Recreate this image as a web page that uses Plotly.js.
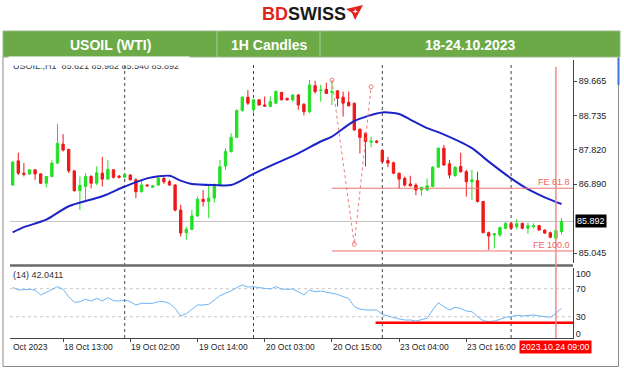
<!DOCTYPE html>
<html><head><meta charset="utf-8">
<script src="https://cdn.plot.ly/plotly-3.0.1.min.js"></script>
<style>html,body{margin:0;padding:0;background:#fff;overflow:hidden}#chart{width:624px;height:371px}</style>
</head><body><div id="chart"></div>
<script>
// ---------- DATA ----------
const titleText = "USOIL (WTI)";
const timeframeText = "1H Candles";
const dateRangeText = "18-24.10.2023";
const symbolLine = "USOIL.,H1  85.621 85.982 85.540 85.892";
const rsiLabel = "(14) 42.0411";

const open = [86.87,87.52,87.19,87.17,87.28,87.17,86.92,87.10,87.46,87.97,
87.83,87.25,86.72,86.83,87.10,86.92,87.19,87.03,87.28,87.11,
87.08,87.14,87.01,86.69,86.87,86.81,86.87,87.05,86.96,86.87,
86.20,85.59,85.68,86.04,86.49,86.43,86.52,86.87,87.38,87.77,
88.15,88.87,89.23,88.89,89.16,89.02,88.98,89.07,89.36,89.20,
89.16,89.29,89.04,88.84,89.54,89.41,89.44,89.36,89.40,89.23,
89.09,89.07,88.37,88.26,88.02,88.05,87.80,87.53,87.47,87.19,
87.05,86.90,86.87,86.74,86.74,86.83,87.35,87.86,87.44,87.12,
87.37,87.23,86.96,86.99,86.43,85.59,85.53,85.53,85.71,85.84,
85.75,85.84,85.71,85.75,85.78,85.66,85.59,85.44,85.621];
const high = [87.50,87.74,87.46,87.28,87.29,87.19,87.10,87.54,88.51,88.24,
87.84,87.28,87.10,87.19,87.14,87.37,87.63,87.54,87.29,87.14,
87.19,87.16,87.05,87.03,86.90,86.86,87.10,87.14,87.01,86.90,
86.34,85.75,86.20,86.56,86.74,86.87,86.92,87.54,87.86,88.26,
88.90,89.26,89.42,89.16,89.17,89.25,89.25,89.42,89.37,89.21,
89.31,89.31,89.07,89.69,89.67,89.56,89.62,89.65,89.42,89.38,
89.38,89.08,88.39,88.28,88.17,88.08,87.81,87.63,87.50,87.20,
87.10,87.12,86.92,86.83,87.05,87.38,87.88,87.95,87.54,87.38,
87.74,87.28,87.28,87.23,86.44,85.62,85.58,85.75,85.89,85.86,
85.95,85.86,85.86,85.84,85.80,85.68,85.62,85.66,85.982];
const low = [86.86,87.14,87.10,87.14,87.01,86.90,86.81,87.08,87.44,87.77,
87.19,86.69,86.20,86.47,86.78,86.87,86.83,87.01,87.04,87.05,
87.05,87.00,86.52,86.67,86.83,86.79,86.85,86.90,86.85,86.16,
85.49,85.40,85.66,86.02,86.29,85.98,86.40,86.85,87.28,87.74,
88.13,88.84,89.02,88.80,89.00,88.98,88.96,89.04,89.14,89.14,
89.11,88.89,88.74,88.80,89.33,89.11,89.32,89.02,88.98,88.71,
88.98,88.33,87.72,87.37,87.88,87.99,87.47,87.35,87.16,86.78,
86.83,86.83,86.60,86.58,86.71,86.81,87.32,87.38,87.05,87.10,
87.20,86.56,86.47,86.40,85.58,85.13,85.17,85.49,85.68,85.68,
85.68,85.68,85.56,85.71,85.65,85.56,85.44,85.41,85.540];
const close = [87.49,87.19,87.16,87.28,87.17,86.92,87.10,87.46,87.99,87.81,
87.25,86.72,86.86,87.10,86.92,87.20,87.03,87.29,87.08,87.08,
87.16,87.01,86.69,86.87,86.85,86.85,87.05,86.96,86.87,86.20,
85.58,85.68,86.04,86.49,86.43,86.52,86.87,87.36,87.77,88.15,
88.87,89.23,89.07,89.16,89.02,88.99,89.11,89.38,89.16,89.16,
89.29,89.02,88.84,89.56,89.38,89.42,89.33,89.38,89.20,89.07,
89.00,88.35,88.15,88.04,88.05,88.02,87.50,87.46,87.19,87.03,
86.87,86.85,86.74,86.81,86.85,87.35,87.86,87.41,87.14,87.35,
87.23,86.96,87.01,86.43,85.59,85.50,85.56,85.73,85.84,85.71,
85.83,85.71,85.78,85.78,85.66,85.58,85.47,85.65,85.892];

// moving average read at selected bars
const maBar = [0,2,6,10,16,20,24,28,30,32,36,39,43,47,51,55,57,61,66,69,71,74,76,82,85,89,92,95,98];
const maVal = [85.60,85.74,85.94,86.30,86.57,86.83,87.05,87.12,86.99,86.90,86.87,86.87,87.17,87.45,87.72,88.04,88.17,88.59,88.82,88.78,88.63,88.40,88.29,87.86,87.50,87.05,86.76,86.54,86.36];

// RSI(14), one value per bar
const rsi = [72.0,68.1,68.6,69.1,68.1,61.0,64.8,69.1,72.9,69.1,
58.6,50.5,51.5,54.8,52.4,56.2,52.4,57.2,52.9,52.4,
53.8,51.5,46.7,49.1,49.0,49.1,51.5,51.5,49.1,41.9,
31.0,34.3,40.5,46.7,46.7,47.7,53.8,60.0,63.4,66.7,
71.5,75.3,72.4,72.9,71.5,70.5,69.5,72.9,69.5,69.1,
69.5,65.7,61.0,68.1,65.7,66.7,64.8,63.4,61.9,58.6,
56.2,44.3,41.0,39.6,39.6,39.6,33.4,31.0,28.6,26.7,
25.3,25.3,23.8,25.3,27.7,39.6,50.0,44.3,39.6,43.4,
41.9,38.1,37.2,30.0,24.3,22.9,23.8,26.2,29.1,30.0,
32.4,31.0,31.5,32.4,31.0,30.0,29.1,34.8,42.04];
const rsiLevels = [70, 30];
const rsiSupport = 21.5;
const rsiSupportFromBar = 64.8;

// Fibonacci expansion anchor points (bar, price)
const feBar = [57, 61, 64];
const fePrice = [89.69, 85.28, 89.51];
const feRatios = [0.618, 1.0];
const feNames = ["FE 61.8", "FE 100.0"];

const priceTicks = [85.045, 86.890, 87.820, 88.735, 89.665];
const lastPrice = 85.892;

const timeTickBars = [9, 21, 33, 45, 57, 69, 81];
const timeTickText = ["18 Oct 13:00","19 Oct 02:00","19 Oct 14:00","20 Oct 03:00","20 Oct 15:00","23 Oct 04:00","23 Oct 16:00"];
const firstDateText = "Oct 2023";
const daySeparatorBars = [20, 43, 66, 89];
const cursorBar = 97;
const cursorText = "2023.10.24 09:00";

// ---------- DRAWING ----------
const W = 624, H = 371;
const PX = x => x / W, PY = y => 1 - y / H;
const bars = open.map((_, i) => i);
const xRange = [-0.48, 100.05];
const FONT = "Liberation Sans, Arial, sans-serif";

const feLevels = feRatios.map(r => fePrice[2] - r * (fePrice[0] - fePrice[1]));

const traces = [
  {type:'candlestick', x:bars, open:open, high:high, low:low, close:close,
   increasing:{line:{color:'#22e022',width:1}, fillcolor:'#22e022'},
   decreasing:{line:{color:'#f01818',width:1}, fillcolor:'#f01818'},
   whiskerwidth:0, xaxis:'x', yaxis:'y', hoverinfo:'skip', showlegend:false},
  {type:'scatter', mode:'lines', x:maBar, y:maVal, line:{color:'#1c24c8', width:2, shape:'spline', smoothing:0.7},
   xaxis:'x', yaxis:'y', hoverinfo:'skip', showlegend:false},
  {type:'scatter', mode:'lines+markers', x:feBar, y:fePrice,
   line:{color:'#f07a7a', width:1, dash:'dot'},
   marker:{symbol:'circle-open', size:4, color:'#f07a7a', line:{width:1}},
   xaxis:'x', yaxis:'y', hoverinfo:'skip', showlegend:false, cliponaxis:false},
  {type:'scatter', mode:'lines', x:bars, y:rsi, line:{color:'#6cb4f5', width:1},
   xaxis:'x2', yaxis:'y2', hoverinfo:'skip', showlegend:false}
];

const shapes = [];
// header banner
shapes.push({type:'rect', xref:'paper', yref:'paper', x0:PX(3), x1:PX(620), y0:PY(57), y1:PY(31),
  fillcolor:'#6caa48', line:{color:'#9ab98a', width:1}, layer:'above'});
[217, 320].forEach(x => shapes.push({type:'line', xref:'paper', yref:'paper', x0:PX(x), x1:PX(x), y0:PY(57), y1:PY(31),
  line:{color:'#a9cd94', width:1}, layer:'above'}));
// logo mark
shapes.push({type:'path', xref:'paper', yref:'paper', layer:'above',
  path:`M ${PX(346)},${PY(9)} L ${PX(363)},${PY(5)} L ${PX(355)},${PY(20)} L ${PX(352)},${PY(13)} Z`,
  fillcolor:'#e2231a', line:{width:0}});
// outer frame
shapes.push({type:'line', xref:'paper', yref:'paper', x0:PX(3), x1:PX(3), y0:PY(366.5), y1:PY(57), line:{color:'#8c8c8c', width:1}});
shapes.push({type:'line', xref:'paper', yref:'paper', x0:PX(3), x1:PX(618.5), y0:PY(366.5), y1:PY(366.5), line:{color:'#8c8c8c', width:1}});
shapes.push({type:'line', xref:'paper', yref:'paper', x0:PX(618.5), x1:PX(618.5), y0:PY(366.5), y1:PY(57), line:{color:'#8c8c8c', width:1}});
shapes.push({type:'line', xref:'paper', yref:'paper', x0:PX(618.5), x1:PX(618.5), y0:PY(85), y1:PY(58), line:{color:'#3a78d8', width:2}});
// panel separator
shapes.push({type:'line', xref:'paper', yref:'paper', x0:PX(10), x1:PX(573), y0:PY(265.5), y1:PY(265.5), line:{color:'#6a6a6a', width:2.5}});
// day separators
daySeparatorBars.forEach(b => shapes.push({type:'line', xref:'x', yref:'paper', x0:b, x1:b, y0:PY(338), y1:PY(65),
  line:{color:'#444', width:1, dash:'dot'}, layer:'below'}));
// last price line
shapes.push({type:'line', xref:'paper', yref:'y', x0:PX(10), x1:PX(573), y0:lastPrice, y1:lastPrice,
  line:{color:'#c4c4c4', width:1}, layer:'below'});
// fib expansion levels
feLevels.forEach(v => shapes.push({type:'line', xref:'x', yref:'y', x0:feBar[0], x1:xRange[1], y0:v, y1:v,
  line:{color:'#f27272', width:1}}));
// RSI levels
rsiLevels.forEach(v => shapes.push({type:'line', xref:'paper', yref:'y2', x0:PX(10), x1:PX(573), y0:v, y1:v,
  line:{color:'#c8c8c8', width:1, dash:'dot'}, layer:'below'}));
shapes.push({type:'line', xref:'x2', yref:'y2', x0:rsiSupportFromBar, x1:xRange[1], y0:rsiSupport, y1:rsiSupport,
  line:{color:'#ff0000', width:2.5}});
// time cursor
shapes.push({type:'line', xref:'x', yref:'paper', x0:cursorBar, x1:cursorBar, y0:PY(338), y1:PY(66.7),
  line:{color:'#f28a8a', width:1.5}});

const annotations = [];
annotations.push({xref:'paper', yref:'paper', x:PX(260), y:PY(14), xanchor:'left', yanchor:'middle', showarrow:false,
  text:'<b><span style="color:#e2231a">BD</span><span style="color:#1a1a1a">SWISS</span></b>',
  font:{family:FONT, size:18, color:'#1a1a1a'}});
annotations.push({xref:'paper', yref:'paper', x:PX(355), y:PY(11.5), xanchor:'center', yanchor:'middle', showarrow:false,
  text:'<b>+</b>', font:{family:FONT, size:8, color:'#ffffff'}});
[[titleText,110],[timeframeText,268.5],[dateRangeText,470]].forEach(([t,x]) => annotations.push({
  xref:'paper', yref:'paper', x:PX(x), y:PY(44.5), xanchor:'center', yanchor:'middle', showarrow:false,
  text:'<b>'+t+'</b>', font:{family:FONT, size:14, color:'#ffffff'}}));
annotations.push({xref:'paper', yref:'paper', x:PX(11), y:PY(66.5), xanchor:'left', yanchor:'middle', showarrow:false,
  text:symbolLine, font:{family:FONT, size:9, color:'#3a3a3a'}});
// the source screenshot is cropped just through the top of the symbol line
annotations.push({xref:'paper', yref:'paper', x:PX(8), y:PY(61), xanchor:'left', yanchor:'middle', showarrow:false,
  text:' ', width:180, height:8, borderpad:0, bgcolor:'#ffffff'});
annotations.push({xref:'paper', yref:'paper', x:PX(11), y:PY(275), xanchor:'left', yanchor:'middle', showarrow:false,
  text:rsiLabel, font:{family:FONT, size:9, color:'#333'}});
feLevels.forEach((v,k) => annotations.push({xref:'paper', yref:'y', x:PX(572), y:v, xanchor:'right', yanchor:'bottom', showarrow:false,
  text:feNames[k], font:{family:FONT, size:9, color:'#f06464'}, yshift:-1}));
annotations.push({xref:'paper', yref:'y', x:PX(575), y:lastPrice, xanchor:'left', yanchor:'middle', showarrow:false,
  text:lastPrice.toFixed(3), bgcolor:'#000000', borderpad:1, font:{family:FONT, size:9, color:'#ffffff'}});
annotations.push({xref:'paper', yref:'paper', x:PX(11), y:PY(346.7), xanchor:'left', yanchor:'middle', showarrow:false,
  text:firstDateText, font:{family:FONT, size:8.5, color:'#222'}});
timeTickBars.forEach((b,k) => annotations.push({xref:'x2', yref:'paper', x:b, y:PY(346.7), xanchor:'left', yanchor:'middle', showarrow:false,
  xshift:-1, text:timeTickText[k], font:{family:FONT, size:8.5, color:'#222'}}));
annotations.push({xref:'x2', yref:'paper', x:cursorBar, y:PY(346.5), xanchor:'center', yanchor:'middle', showarrow:false,
  text:cursorText, bgcolor:'#ff0000', borderpad:1, font:{family:FONT, size:8.8, color:'#ffffff'}});

const layout = {
  width:W, height:H, margin:{l:0,r:0,t:0,b:0}, paper_bgcolor:'#ffffff', plot_bgcolor:'#ffffff',
  showlegend:false, boxgap:0.4, font:{family:FONT},
  xaxis:{domain:[PX(10),PX(573)], range:xRange, type:'linear', anchor:'y', showticklabels:false, ticks:'',
    showline:false, showgrid:false, zeroline:false, rangeslider:{visible:false}, fixedrange:true},
  yaxis:{domain:[PY(263),PY(60)], range:[84.7765,90.229], side:'right', anchor:'x',
    tickvals:priceTicks, ticktext:priceTicks.map(v=>v.toFixed(3)), ticks:'outside', ticklen:3, tickcolor:'#444',
    showline:true, linecolor:'#444', linewidth:1, showgrid:false, zeroline:false,
    tickfont:{family:FONT, size:9, color:'#222'}, fixedrange:true},
  xaxis2:{domain:[PX(10),PX(573)], range:xRange, type:'linear', anchor:'y2', tickvals:timeTickBars, ticks:'outside',
    ticklen:3, tickcolor:'#444', showticklabels:false, showline:true, linecolor:'#444', showgrid:false, zeroline:false, fixedrange:true},
  yaxis2:{domain:[PY(337.7),PY(267.7)], range:[0,100], side:'right', anchor:'x2',
    tickvals:[91,70,30,5], ticktext:['100','70','30','0'], ticks:'', showline:true, linecolor:'#444',
    showgrid:false, zeroline:false, tickfont:{family:FONT, size:9, color:'#222'}, fixedrange:true},
  shapes:shapes, annotations:annotations
};

Plotly.newPlot('chart', traces, layout, {staticPlot:true, displayModeBar:false});
</script></body></html>
